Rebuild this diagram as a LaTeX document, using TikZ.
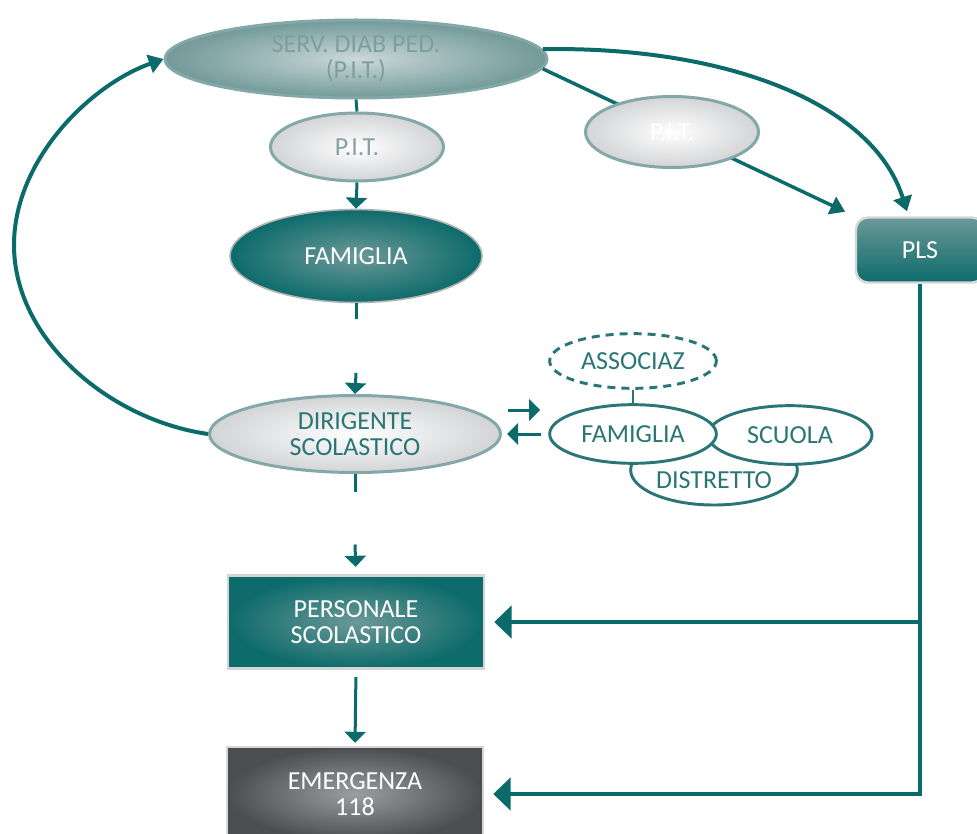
\documentclass[tikz,border=0pt]{standalone}
\usepackage{fontspec}
\setmainfont{Carlito}
\usetikzlibrary{shapes.geometric,arrows.meta,calc}
\definecolor{tealline}{HTML}{0B6B6B}
\definecolor{tealtext}{HTML}{2A7575}
\definecolor{paletext}{HTML}{86A3A3}
\definecolor{servtext}{HTML}{7F9F9F}
\definecolor{paleborder}{HTML}{84A8A8}
\definecolor{lightgray}{HTML}{D3D4D6}
\definecolor{servin}{HTML}{CAD8D9}
\definecolor{servout}{HTML}{729999}
\definecolor{tealin}{HTML}{6C9898}
\definecolor{tealout}{HTML}{0D6B6B}
\definecolor{grayin}{HTML}{9C9D9F}
\definecolor{grayout}{HTML}{4C4D4F}
\definecolor{boxborder}{HTML}{D2D6D6}
\tikzset{
  base/.style={font=\fontsize{19.5}{19}\selectfont, align=center, inner sep=0pt},
  paleell/.style={base, ellipse, draw=paleborder, line width=2.25pt, inner color=white, outer color=lightgray},
  tealell/.style={base, ellipse, draw=gray!60, line width=1.2pt, inner color=tealin, outer color=tealout, text=white},
  tealbox/.style={base, rectangle, draw=boxborder, line width=1.8pt, inner color=tealin, outer color=tealout, text=white},
  graybox/.style={base, rectangle, draw=boxborder, line width=1.8pt, inner color=grayin, outer color=grayout, text=white},
  outell/.style={base, ellipse, draw=tealtext, line width=2.2pt, fill=white, text=tealtext},
  conn/.style={draw=tealline, line width=2.25pt},
  arr/.style={conn, -{Triangle[width=15.75pt,length=8.25pt]}},
  carr/.style={draw=tealline, line width=3pt, -{Triangle[width=14pt,length=11pt]}},
  barr/.style={draw=tealline, line width=3.6pt, -{Triangle[width=24pt,length=13pt]}},
}
\begin{document}
\begin{tikzpicture}[x=0.75pt,y=-0.75pt]
\useasboundingbox (0,0) rectangle (977,834);

% main nodes
\node[base, ellipse, draw=paleborder, line width=2.25pt, inner color=servin, outer color=servout, text=servtext,
      minimum width=286.5pt, minimum height=58.5pt] (serv) at (356,59) {SERV. DIAB PED.\\(P.I.T.)};
\node[paleell, text=paletext, minimum width=129.75pt, minimum height=51pt] (pit1) at (357,147) {P.I.T.};
\node[tealell, minimum width=189pt, minimum height=69.75pt] (fam) at (356,256) {FAMIGLIA};
\node[paleell, text=tealtext, minimum width=218.25pt, minimum height=57.75pt] (dir) at (355,434) {DIRIGENTE\\SCOLASTICO};
\node[tealbox, minimum width=192pt, minimum height=69.75pt] (pers) at (356,622) {PERSONALE\\SCOLASTICO};
\node[graybox, minimum width=192pt, minimum height=70.5pt] (emer) at (355,794) {EMERGENZA\\118};
\node[base, rectangle, rounded corners=9pt, draw=boxborder, line width=1.8pt, top color=tealin, bottom color=tealout, text=white,
      minimum width=96pt, minimum height=48.75pt] (pls) at (920,250) {PLS};

% connectors among main column
\draw[conn] (serv.south) -- (pit1.north);
\draw[arr] (pit1.south) -- (fam.north);
\coordinate (g1a) at ($(fam.south)+(0,16)$);
\coordinate (g1b) at ($(fam.south)+(0,69.5)$);
\draw[conn] (fam.south) -- (g1a);
\draw[arr] (g1b) -- (dir.north);
\coordinate (g2a) at ($(dir.south)+(0,17.5)$);
\coordinate (g2b) at ($(dir.south)+(0,70.5)$);
\draw[conn] (dir.south) -- (g2a);
\draw[arr, shorten >=5.6pt] (g2b) -- (pers.north);
\draw[arr, shorten <=5.6pt, shorten >=2.25pt] (pers.south) -- (emer.north);

% PLS feeds
\draw[barr, shorten >=6.75pt] (pls.south) |- (emer.east);
\draw[barr, shorten >=6.75pt] (pls.south |- pers.east) -- (pers.east);

% SERV to PLS (straight, behind second P.I.T.)
\draw[carr, line width=2.6pt, shorten >=8pt] (serv.-3) -- (pls.north west);
\node[paleell, text=white, minimum width=129.75pt, minimum height=53.25pt] (pit2) at (672,132) {P.I.T.};

% SERV to PLS curved
\draw[carr] (serv.3) .. controls (720,46) and (872,100) .. ($(pls.north)+(-13,-5)$);

% big loop from DIRIGENTE back to SERV
\coordinate (lft) at (14,245);
\draw[carr, -] (dir.west) .. controls (110,420) and (14,340) .. (lft);
\draw[carr] (lft) .. controls (14,160) and (90,85) .. (serv.west);

% associations group
\node[outell, dashed, dash pattern=on 6pt off 4.5pt, minimum width=125pt, minimum height=41pt] (assoc) at (633,361) {ASSOCIAZ};
\node[outell, minimum width=125pt, minimum height=52.5pt] (distr) at (714,470) {\raisebox{-13.5pt}[0pt][0pt]{DISTRETTO}};
\node[outell, minimum width=123pt, minimum height=44pt] (scuola) at (790,435) {SCUOLA};
\node[outell, minimum width=125pt, minimum height=44pt] (fam2) at (633,434) {FAMIGLIA};
\draw[conn, draw=tealtext, line width=2pt] (assoc.south) -- (fam2.north);

% exchange arrows
\draw[arr] ($(dir.east)+(6,-24)$) -- ($(fam2.west)+(-8,-24)$);
\draw[arr] ($(fam2.west)+(-7,0)$) -- ($(dir.east)+(5,0)$);
\end{tikzpicture}
\end{document}
